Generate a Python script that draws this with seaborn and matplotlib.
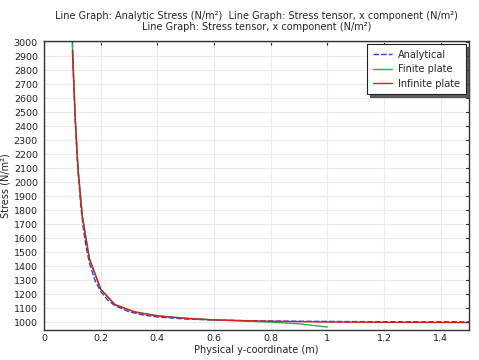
import numpy as np
import pandas as pd
import matplotlib
matplotlib.use('Agg')
import matplotlib.pyplot as plt
import seaborn as sns

# --- data ---
analytical_x = [0.1, 0.105, 0.11, 0.115, 0.12, 0.13, 0.14, 0.15, 0.16, 0.18, 0.2, 0.225,
                0.25, 0.3, 0.35, 0.4, 0.5, 0.6, 0.7, 0.8, 1.0, 1.2, 1.5]
analytical_y = [3000, 2688, 2438, 2236, 2070, 1821, 1645, 1519, 1424, 1297, 1219, 1157,
                1118, 1074, 1051, 1037, 1022, 1015, 1011, 1008, 1005, 1003, 1002]

finite_x = [0.1, 0.11, 0.12, 0.135, 0.16, 0.2, 0.25, 0.32, 0.4, 0.5, 0.6, 0.7, 0.8, 0.9, 1.0]
finite_y = [2985, 2470, 2100, 1760, 1455, 1237, 1127, 1074, 1046, 1028, 1016, 1008, 1000, 988, 965]

infinite_x = [0.1, 0.11, 0.12, 0.135, 0.16, 0.2, 0.25, 0.32, 0.4, 0.5, 0.6, 0.8, 1.0, 1.2, 1.5]
infinite_y = [2940, 2450, 2090, 1755, 1452, 1234, 1124, 1072, 1044, 1027, 1016, 1006, 1001, 999, 997]

series_names = ['Analytical', 'Finite plate', 'Infinite plate']
series_colors = ['#2b3bff', '#22b34a', '#d91c1c']

df = pd.concat([
    pd.DataFrame({'x': analytical_x, 'y': analytical_y, 'series': series_names[0]}),
    pd.DataFrame({'x': finite_x, 'y': finite_y, 'series': series_names[1]}),
    pd.DataFrame({'x': infinite_x, 'y': infinite_y, 'series': series_names[2]}),
])

sns.set_style('white')
plt.rcParams['font.family'] = ['DejaVu Sans']

fig = plt.figure(figsize=(4.79, 3.6), dpi=100)
ax = fig.add_axes([0.092, 0.083, 0.887, 0.803])

sns.lineplot(data=df, x='x', y='y', hue='series', style='series',
             palette=dict(zip(series_names, series_colors)),
             dashes={'Analytical': (4, 1.5), 'Finite plate': '', 'Infinite plate': ''},
             sort=False, estimator=None, linewidth=1.0, ax=ax)

ax.set_xlim(0, 1.5)
ax.set_ylim(943, 3007)
ax.set_xticks(np.arange(0, 1.5, 0.2))
ax.set_xticklabels(['0', '0.2', '0.4', '0.6', '0.8', '1', '1.2', '1.4'])
ax.set_yticks(np.arange(1000, 3001, 100))
ax.grid(True, color='#ebebeb', linewidth=0.8)
ax.set_axisbelow(True)

for s in ax.spines.values():
    s.set_color('#333333')
    s.set_linewidth(1.0)
ax.tick_params(axis='both', labelsize=6.8, colors='#222222', length=3, width=0.8)
ax.tick_params(axis='x', direction='in', top=True, pad=3)
ax.tick_params(axis='y', direction='out', right=False, pad=1.5)
for y in np.arange(1000, 3001, 100):
    ax.plot([1.5, 1.488], [y, y], color='#333333', lw=0.8, clip_on=False)

ax.set_xlabel('Physical y-coordinate (m)', fontsize=7, labelpad=1)
ax.set_ylabel('Stress (N/m²)', fontsize=7, labelpad=2)
ax.set_title('Line Graph: Analytic Stress (N/m²)  Line Graph: Stress tensor, x component (N/m²)\n'
             'Line Graph: Stress tensor, x component (N/m²)', fontsize=7, pad=8, linespacing=1.15)

leg = ax.legend(loc='upper right', fontsize=7, frameon=True, fancybox=False,
                shadow={'color': '#444444', 'alpha': 0.85},
                borderpad=0.6, handlelength=2.0, handletextpad=0.6, labelspacing=0.45,
                borderaxespad=0.3, bbox_to_anchor=(1.0, 1.0))
leg.set_title(None)
leg.get_frame().set_edgecolor('#222222')
leg.get_frame().set_linewidth(0.8)

fig.savefig('out.png', dpi=100)
